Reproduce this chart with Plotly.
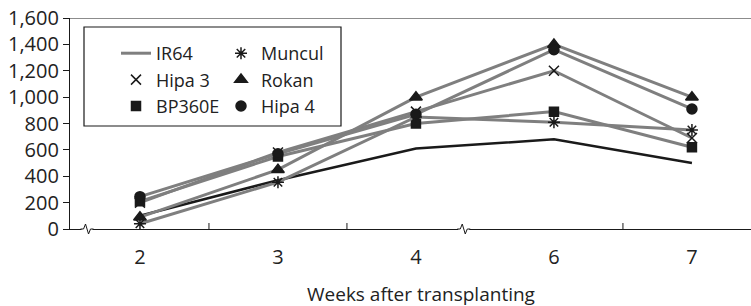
import plotly.graph_objects as go

weeks = ["2", "3", "4", "6", "7"]
ir64 = [100, 370, 610, 680, 500]
muncul = [40, 355, 850, 810, 750]
hipa3 = [200, 580, 890, 1200, 690]
rokan = [90, 450, 1000, 1400, 1000]
bp360e = [210, 550, 800, 890, 620]
hipa4 = [245, 570, 870, 1360, 910]
y_ticks = [0, 200, 400, 600, 800, 1000, 1200, 1400, 1600]

GRAY = "#7f7f7f"
BLACK = "#1a1a1a"
FONT = "Open Sans"

fig = go.Figure()

# IR64: black line, legend sample grey
fig.add_trace(go.Scatter(x=weeks, y=ir64, mode="lines", name="IR64",
                         line=dict(color=BLACK, width=2.5), showlegend=False))

series = [
    ("Hipa 3", hipa3, "x-thin-open", 10, "legend"),
    ("BP360E", bp360e, "square", 9, "legend"),
    ("Muncul", muncul, "asterisk-open", 10, "legend2"),
    ("Rokan", rokan, "triangle-up", 11, "legend2"),
    ("Hipa 4", hipa4, "circle", 10, "legend2"),
]
for name, vals, sym, sz, lg in series:
    fig.add_trace(go.Scatter(
        x=weeks, y=vals, mode="lines+markers", name=name, showlegend=False,
        line=dict(color=GRAY, width=3),
        marker=dict(symbol=sym, size=sz, color=BLACK,
                    line=dict(color=BLACK, width=1.5)),
    ))

# legend entries (legend-only traces)
fig.add_trace(go.Scatter(x=[None], y=[None], mode="lines", name="IR64",
                         line=dict(color=GRAY, width=3), legend="legend"))
for name, vals, sym, sz, lg in series:
    fig.add_trace(go.Scatter(x=[None], y=[None], mode="markers", name=name, legend=lg,
                             marker=dict(symbol=sym, size=sz, color=BLACK,
                                         line=dict(color=BLACK, width=1.5))))

shapes = []
# top frame line
shapes.append(dict(type="line", xref="paper", yref="y", x0=0, x1=1, y0=1600, y1=1600,
                   line=dict(color=BLACK, width=1.2)))
# legend box
shapes.append(dict(type="rect", xref="paper", yref="paper",
                   x0=(84 - 70) / 681, x1=(341 - 70) / 681,
                   y0=(229 - 126) / 211, y1=(229 - 27) / 211,
                   line=dict(color=BLACK, width=1.2), fillcolor="white", layer="below"))
# x ticks between categories (inside)
for xv in [0.5, 1.5, 3.5]:
    shapes.append(dict(type="line", xref="x", yref="paper", x0=xv, x1=xv,
                       y0=0, y1=6 / 211, line=dict(color=BLACK, width=1)))
# axis breaks
for xb in [-0.38, 2.35]:
    shapes.append(dict(type="rect", xref="x", yref="paper", xsizemode="pixel", ysizemode="pixel",
                       xanchor=xb, yanchor=0, x0=-6, x1=5, y0=-3, y1=3,
                       line=dict(width=0), fillcolor="white"))
    shapes.append(dict(type="path", xref="x", yref="paper", xsizemode="pixel", ysizemode="pixel",
                       xanchor=xb, yanchor=0,
                       path="M-7,0 L-4,0 L-2,5 L1,-5 L3,0 L6,0",
                       line=dict(color=BLACK, width=1)))

fig.update_layout(
    width=751, height=306,
    margin=dict(l=70, r=0, t=18, b=77),
    paper_bgcolor="white", plot_bgcolor="white",
    font=dict(family=FONT, size=18, color="#222222"),
    xaxis=dict(type="category", range=[-0.507, 4.428], showline=True,
               linecolor=BLACK, linewidth=1.2, ticks="", showgrid=False,
               zeroline=False, ticklabelstandoff=10,
               tickfont=dict(size=20)),
    yaxis=dict(range=[0, 1600], tickvals=y_ticks, tickformat=",",
               showline=True, linecolor=BLACK, linewidth=1.2,
               ticks="outside", ticklen=6, tickcolor=BLACK,
               showgrid=False, zeroline=False, tickfont=dict(size=20)),
    legend=dict(x=(116 - 70) / 681, y=(229 - 35) / 211, xanchor="left", yanchor="top",
                bgcolor="rgba(0,0,0,0)", borderwidth=0, font=dict(size=18),
                tracegroupgap=0, itemwidth=30),
    legend2=dict(x=(221 - 70) / 681, y=(229 - 35) / 211, xanchor="left", yanchor="top",
                 bgcolor="rgba(0,0,0,0)", borderwidth=0, font=dict(size=18),
                 tracegroupgap=0, itemwidth=30),
    shapes=shapes,
    annotations=[dict(text="Weeks after transplanting", xref="paper", yref="paper",
                      x=(421 - 70) / 681, y=(229 - 294) / 211, showarrow=False,
                      xanchor="center", yanchor="middle", font=dict(size=19))],
)

fig.write_html("out.html", config={"displayModeBar": False},
               post_script="document.body.style.margin='0';")
